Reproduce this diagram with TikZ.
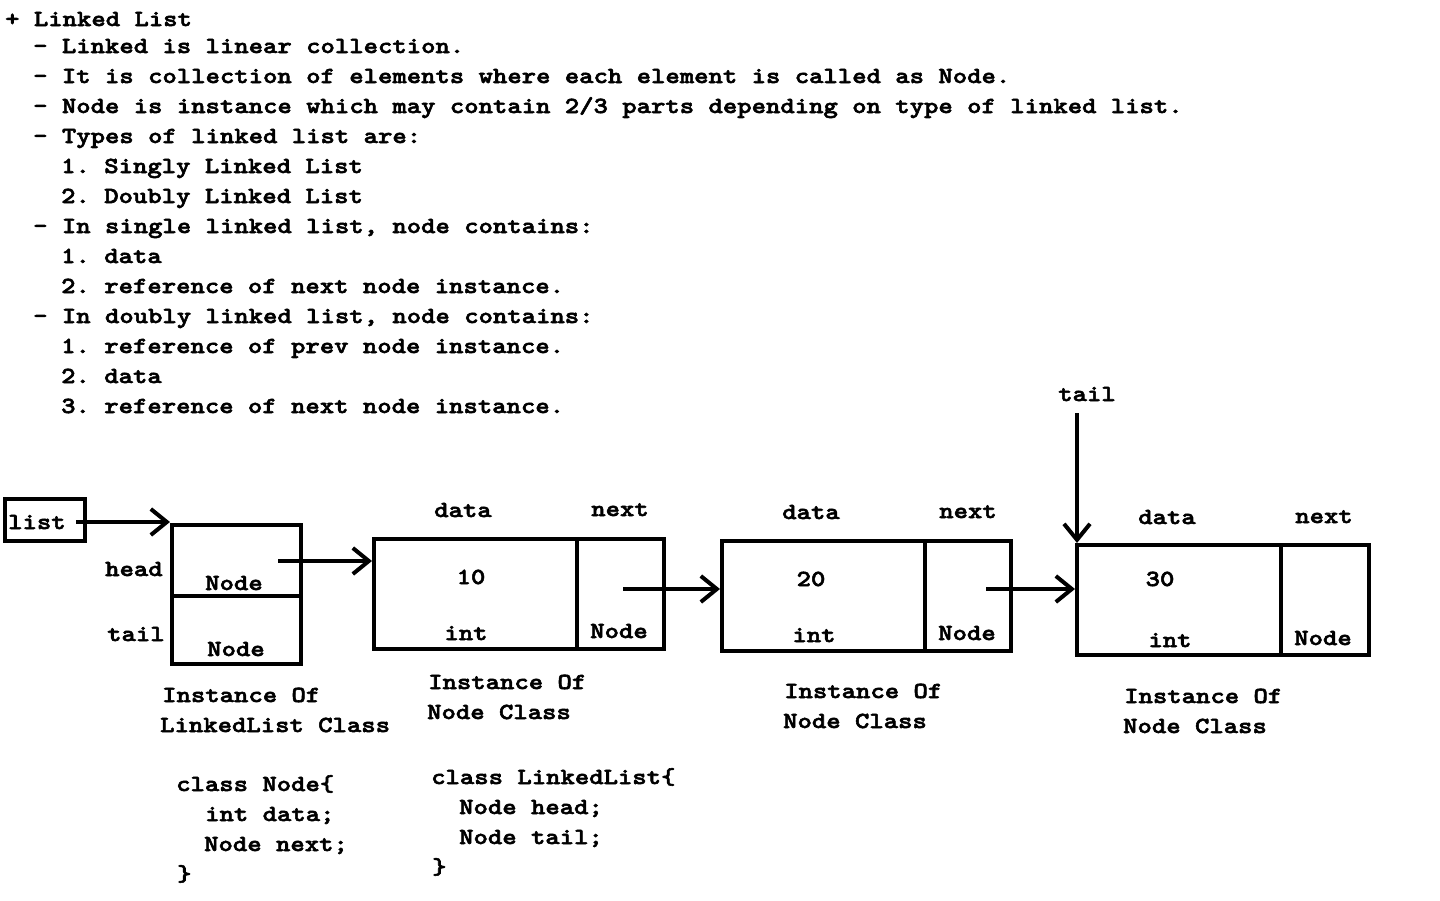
\documentclass[tikz,border=0pt]{standalone}
\usepackage{fontspec}
\setmonofont{lmmono10-regular.otf}[BoldFont=lmmonolt10-bold.otf, FakeStretch=1.19, BoldFeatures={FakeBold=2.5}]
\usetikzlibrary{arrows.meta}
\tikzset{
  box/.style={draw, line width=4pt, rectangle, inner sep=0pt},
  txt/.style={inner sep=0pt, font=\ttfamily\bfseries\fontsize{23}{30}\selectfont},
  tl/.style={txt, anchor=base west},
  tc/.style={txt, anchor=base},
  arr/.style={line width=4pt, -{Straight Barb[length=16pt, width=26pt, line width=4pt]}}
}
\begin{document}
\begin{tikzpicture}[x=1pt, y=-1pt]
\useasboundingbox (0,0) rectangle (1440,900);
% header text
\node[tl] (h1) at (5,26) {+ Linked List};
\node[tl] (h2) at (33,53) {- Linked is linear collection.};
\node[tl] (h3) at (33,83) {- It is collection of elements where each element is called as Node.};
\node[tl] (h4) at (33,113) {- Node is instance which may contain 2/3 parts depending on type of linked list.};
\node[tl] (h5) at (33,143) {- Types of linked list are:};
\node[tl] (h6) at (61,173) {1. Singly Linked List};
\node[tl] (h7) at (61,203) {2. Doubly Linked List};
\node[tl] (h8) at (33,233) {- In single linked list, node contains:};
\node[tl] (h9) at (61,263) {1. data};
\node[tl] (h10) at (61,293) {2. reference of next node instance.};
\node[tl] (h11) at (33,323) {- In doubly linked list, node contains:};
\node[tl] (h12) at (61,353) {1. reference of prev node instance.};
\node[tl] (h13) at (61,383) {2. data};
\node[tl] (h14) at (61,413) {3. reference of next node instance.};

% list box
\node[box, minimum width=80pt, minimum height=42pt] (list) at (45,520) {};
\node[tl] (listt) at (8,529) {list};

% LinkedList instance
\node[box, minimum width=129pt, minimum height=71pt] (llh) at (236.5,560.5) {};
\node[box, minimum width=129pt, minimum height=68pt] (llt) at (236.5,630) {};
\node[tc] (llhn) at (234,590) {Node};
\node[tc] (lltn) at (236,656) {Node};
\node[tl] (headl) at (105,576) {head};
\node[tl] (taill) at (107,641) {tail};

% node 1
\node[box, minimum width=203pt, minimum height=110pt] (n1d) at (475.5,594) {};
\node[box, minimum width=87pt, minimum height=110pt] (n1n) at (620.5,594) {};
\node[tc] (n1dl) at (463,517) {data};
\node[tc] (n1nl) at (620,516) {next};
\node[tc] (n1v) at (471,584) {10};
\node[tc] (n1t) at (466,640) {int};
\node[tc] (n1nt) at (619,638) {Node};

% node 2
\node[box, minimum width=203pt, minimum height=110pt] (n2d) at (823.5,596) {};
\node[box, minimum width=86pt, minimum height=110pt] (n2n) at (968,596) {};
\node[tc] (n2dl) at (811,519) {data};
\node[tc] (n2nl) at (968,518) {next};
\node[tc] (n2v) at (811,586) {20};
\node[tc] (n2t) at (814,642) {int};
\node[tc] (n2nt) at (967,640) {Node};

% node 3
\node[box, minimum width=204pt, minimum height=110pt] (n3d) at (1179,600) {};
\node[box, minimum width=88pt, minimum height=110pt] (n3n) at (1325,600) {};
\node[tc] (n3dl) at (1167,524) {data};
\node[tc] (n3nl) at (1324,523) {next};
\node[tc] (n3v) at (1160,586) {30};
\node[tc] (n3t) at (1170,647) {int};
\node[tc] (n3nt) at (1323,645) {Node};

% tail pointer
\node[tc] (tailt) at (1087,401) {tail};
\coordinate (ts) at (1077,413);

% arrow starts
\coordinate (s0) at (76,522);
\coordinate (s1) at (278,561);
\coordinate (s2) at (623,589);
\coordinate (s3) at (986,589);

\draw[arr] (s0) -- (s0 -| llh.west);
\draw[arr] (s1) -- (s1 -| n1d.west);
\draw[arr] (s2) -- (s2 -| n2d.west);
\draw[arr] (s3) -- (s3 -| n3d.west);
\draw[arr] (ts) -- (ts |- n3d.north);

% captions
\node[tl] (c1a) at (162,702) {Instance Of};
\node[tl] (c1b) at (160,732) {LinkedList Class};
\node[tl] (c2a) at (428,689) {Instance Of};
\node[tl] (c2b) at (427,719) {Node Class};
\node[tl] (c3a) at (784,698) {Instance Of};
\node[tl] (c3b) at (783,728) {Node Class};
\node[tl] (c4a) at (1124,703) {Instance Of};
\node[tl] (c4b) at (1123,733) {Node Class};

% code
\node[tl] (k1) at (176,791) {class Node\{};
\node[tl] (k2) at (205,821) {int data;};
\node[tl] (k3) at (204,851) {Node next;};
\node[tl] (k4) at (177,881) {\}};
\node[tl] (m1) at (431,784) {class LinkedList\{};
\node[tl] (m2) at (459,814) {Node head;};
\node[tl] (m3) at (459,844) {Node tail;};
\node[tl] (m4) at (432,874) {\}};
\end{tikzpicture}
\end{document}
